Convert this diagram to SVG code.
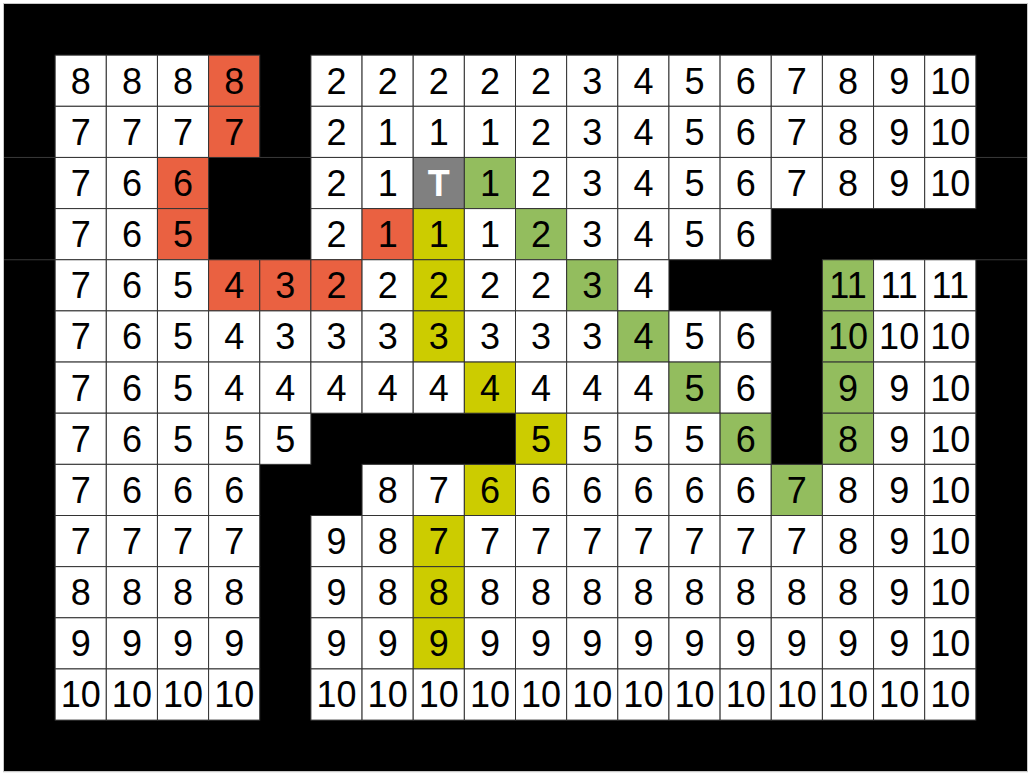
<svg xmlns="http://www.w3.org/2000/svg" width="1031" height="775" viewBox="0 0 1031 775">
<style>
.cells rect{stroke:#333;stroke-width:1}
.w{fill:#fff}.r{fill:#EA6141}.g{fill:#93BD5E}.y{fill:#CCCC00}.t{fill:#808080}
text{font-family:"Liberation Sans",Arial,Helvetica,sans-serif;font-size:36px;text-anchor:middle;fill:#000}
text.tt{fill:#fff;font-weight:bold}
</style>
<rect width="1031" height="775" fill="#fff"/>
<rect x="4" y="4" width="1023" height="767.25" fill="#000"/>
<rect x="3.5" y="3.5" width="1024" height="768.25" fill="none" stroke="#c8c8c8" stroke-width="1"/>
<g id="seams" stroke="#3a3a3a" stroke-width="1" fill="none">
<path d="M4 157.45H55.15M259.75 157.45H310.9M975.85 157.45H1027M4 259.75H55.15M975.85 259.75H1027"/>
</g>
<g class="cells">
<!-- row 0 -->
<g id="n0-0" class="w" transform="translate(55.15,55.15)"><rect width="51.15" height="51.15"/><text x="25.6" y="38.5">8</text></g>
<g id="n0-1" class="w" transform="translate(106.3,55.15)"><rect width="51.15" height="51.15"/><text x="25.6" y="38.5">8</text></g>
<g id="n0-2" class="w" transform="translate(157.45,55.15)"><rect width="51.15" height="51.15"/><text x="25.6" y="38.5">8</text></g>
<g id="n0-3" class="r" transform="translate(208.6,55.15)"><rect width="51.15" height="51.15"/><text x="25.6" y="38.5">8</text></g>
<g id="n0-5" class="w" transform="translate(310.9,55.15)"><rect width="51.15" height="51.15"/><text x="25.6" y="38.5">2</text></g>
<g id="n0-6" class="w" transform="translate(362.05,55.15)"><rect width="51.15" height="51.15"/><text x="25.6" y="38.5">2</text></g>
<g id="n0-7" class="w" transform="translate(413.2,55.15)"><rect width="51.15" height="51.15"/><text x="25.6" y="38.5">2</text></g>
<g id="n0-8" class="w" transform="translate(464.35,55.15)"><rect width="51.15" height="51.15"/><text x="25.6" y="38.5">2</text></g>
<g id="n0-9" class="w" transform="translate(515.5,55.15)"><rect width="51.15" height="51.15"/><text x="25.6" y="38.5">2</text></g>
<g id="n0-10" class="w" transform="translate(566.65,55.15)"><rect width="51.15" height="51.15"/><text x="25.6" y="38.5">3</text></g>
<g id="n0-11" class="w" transform="translate(617.8,55.15)"><rect width="51.15" height="51.15"/><text x="25.6" y="38.5">4</text></g>
<g id="n0-12" class="w" transform="translate(668.95,55.15)"><rect width="51.15" height="51.15"/><text x="25.6" y="38.5">5</text></g>
<g id="n0-13" class="w" transform="translate(720.1,55.15)"><rect width="51.15" height="51.15"/><text x="25.6" y="38.5">6</text></g>
<g id="n0-14" class="w" transform="translate(771.25,55.15)"><rect width="51.15" height="51.15"/><text x="25.6" y="38.5">7</text></g>
<g id="n0-15" class="w" transform="translate(822.4,55.15)"><rect width="51.15" height="51.15"/><text x="25.6" y="38.5">8</text></g>
<g id="n0-16" class="w" transform="translate(873.55,55.15)"><rect width="51.15" height="51.15"/><text x="25.6" y="38.5">9</text></g>
<g id="n0-17" class="w" transform="translate(924.7,55.15)"><rect width="51.15" height="51.15"/><text x="25.6" y="38.5">10</text></g>
<!-- row 1 -->
<g id="n1-0" class="w" transform="translate(55.15,106.3)"><rect width="51.15" height="51.15"/><text x="25.6" y="38.5">7</text></g>
<g id="n1-1" class="w" transform="translate(106.3,106.3)"><rect width="51.15" height="51.15"/><text x="25.6" y="38.5">7</text></g>
<g id="n1-2" class="w" transform="translate(157.45,106.3)"><rect width="51.15" height="51.15"/><text x="25.6" y="38.5">7</text></g>
<g id="n1-3" class="r" transform="translate(208.6,106.3)"><rect width="51.15" height="51.15"/><text x="25.6" y="38.5">7</text></g>
<g id="n1-5" class="w" transform="translate(310.9,106.3)"><rect width="51.15" height="51.15"/><text x="25.6" y="38.5">2</text></g>
<g id="n1-6" class="w" transform="translate(362.05,106.3)"><rect width="51.15" height="51.15"/><text x="25.6" y="38.5">1</text></g>
<g id="n1-7" class="w" transform="translate(413.2,106.3)"><rect width="51.15" height="51.15"/><text x="25.6" y="38.5">1</text></g>
<g id="n1-8" class="w" transform="translate(464.35,106.3)"><rect width="51.15" height="51.15"/><text x="25.6" y="38.5">1</text></g>
<g id="n1-9" class="w" transform="translate(515.5,106.3)"><rect width="51.15" height="51.15"/><text x="25.6" y="38.5">2</text></g>
<g id="n1-10" class="w" transform="translate(566.65,106.3)"><rect width="51.15" height="51.15"/><text x="25.6" y="38.5">3</text></g>
<g id="n1-11" class="w" transform="translate(617.8,106.3)"><rect width="51.15" height="51.15"/><text x="25.6" y="38.5">4</text></g>
<g id="n1-12" class="w" transform="translate(668.95,106.3)"><rect width="51.15" height="51.15"/><text x="25.6" y="38.5">5</text></g>
<g id="n1-13" class="w" transform="translate(720.1,106.3)"><rect width="51.15" height="51.15"/><text x="25.6" y="38.5">6</text></g>
<g id="n1-14" class="w" transform="translate(771.25,106.3)"><rect width="51.15" height="51.15"/><text x="25.6" y="38.5">7</text></g>
<g id="n1-15" class="w" transform="translate(822.4,106.3)"><rect width="51.15" height="51.15"/><text x="25.6" y="38.5">8</text></g>
<g id="n1-16" class="w" transform="translate(873.55,106.3)"><rect width="51.15" height="51.15"/><text x="25.6" y="38.5">9</text></g>
<g id="n1-17" class="w" transform="translate(924.7,106.3)"><rect width="51.15" height="51.15"/><text x="25.6" y="38.5">10</text></g>
<!-- row 2 -->
<g id="n2-0" class="w" transform="translate(55.15,157.45)"><rect width="51.15" height="51.15"/><text x="25.6" y="38.5">7</text></g>
<g id="n2-1" class="w" transform="translate(106.3,157.45)"><rect width="51.15" height="51.15"/><text x="25.6" y="38.5">6</text></g>
<g id="n2-2" class="r" transform="translate(157.45,157.45)"><rect width="51.15" height="51.15"/><text x="25.6" y="38.5">6</text></g>
<g id="n2-5" class="w" transform="translate(310.9,157.45)"><rect width="51.15" height="51.15"/><text x="25.6" y="38.5">2</text></g>
<g id="n2-6" class="w" transform="translate(362.05,157.45)"><rect width="51.15" height="51.15"/><text x="25.6" y="38.5">1</text></g>
<g id="n2-7" class="t" transform="translate(413.2,157.45)"><rect width="51.15" height="51.15"/><text class="tt" x="25.6" y="38.5">T</text></g>
<g id="n2-8" class="g" transform="translate(464.35,157.45)"><rect width="51.15" height="51.15"/><text x="25.6" y="38.5">1</text></g>
<g id="n2-9" class="w" transform="translate(515.5,157.45)"><rect width="51.15" height="51.15"/><text x="25.6" y="38.5">2</text></g>
<g id="n2-10" class="w" transform="translate(566.65,157.45)"><rect width="51.15" height="51.15"/><text x="25.6" y="38.5">3</text></g>
<g id="n2-11" class="w" transform="translate(617.8,157.45)"><rect width="51.15" height="51.15"/><text x="25.6" y="38.5">4</text></g>
<g id="n2-12" class="w" transform="translate(668.95,157.45)"><rect width="51.15" height="51.15"/><text x="25.6" y="38.5">5</text></g>
<g id="n2-13" class="w" transform="translate(720.1,157.45)"><rect width="51.15" height="51.15"/><text x="25.6" y="38.5">6</text></g>
<g id="n2-14" class="w" transform="translate(771.25,157.45)"><rect width="51.15" height="51.15"/><text x="25.6" y="38.5">7</text></g>
<g id="n2-15" class="w" transform="translate(822.4,157.45)"><rect width="51.15" height="51.15"/><text x="25.6" y="38.5">8</text></g>
<g id="n2-16" class="w" transform="translate(873.55,157.45)"><rect width="51.15" height="51.15"/><text x="25.6" y="38.5">9</text></g>
<g id="n2-17" class="w" transform="translate(924.7,157.45)"><rect width="51.15" height="51.15"/><text x="25.6" y="38.5">10</text></g>
<!-- row 3 -->
<g id="n3-0" class="w" transform="translate(55.15,208.6)"><rect width="51.15" height="51.15"/><text x="25.6" y="38.5">7</text></g>
<g id="n3-1" class="w" transform="translate(106.3,208.6)"><rect width="51.15" height="51.15"/><text x="25.6" y="38.5">6</text></g>
<g id="n3-2" class="r" transform="translate(157.45,208.6)"><rect width="51.15" height="51.15"/><text x="25.6" y="38.5">5</text></g>
<g id="n3-5" class="w" transform="translate(310.9,208.6)"><rect width="51.15" height="51.15"/><text x="25.6" y="38.5">2</text></g>
<g id="n3-6" class="r" transform="translate(362.05,208.6)"><rect width="51.15" height="51.15"/><text x="25.6" y="38.5">1</text></g>
<g id="n3-7" class="y" transform="translate(413.2,208.6)"><rect width="51.15" height="51.15"/><text x="25.6" y="38.5">1</text></g>
<g id="n3-8" class="w" transform="translate(464.35,208.6)"><rect width="51.15" height="51.15"/><text x="25.6" y="38.5">1</text></g>
<g id="n3-9" class="g" transform="translate(515.5,208.6)"><rect width="51.15" height="51.15"/><text x="25.6" y="38.5">2</text></g>
<g id="n3-10" class="w" transform="translate(566.65,208.6)"><rect width="51.15" height="51.15"/><text x="25.6" y="38.5">3</text></g>
<g id="n3-11" class="w" transform="translate(617.8,208.6)"><rect width="51.15" height="51.15"/><text x="25.6" y="38.5">4</text></g>
<g id="n3-12" class="w" transform="translate(668.95,208.6)"><rect width="51.15" height="51.15"/><text x="25.6" y="38.5">5</text></g>
<g id="n3-13" class="w" transform="translate(720.1,208.6)"><rect width="51.15" height="51.15"/><text x="25.6" y="38.5">6</text></g>
<!-- row 4 -->
<g id="n4-0" class="w" transform="translate(55.15,259.75)"><rect width="51.15" height="51.15"/><text x="25.6" y="38.5">7</text></g>
<g id="n4-1" class="w" transform="translate(106.3,259.75)"><rect width="51.15" height="51.15"/><text x="25.6" y="38.5">6</text></g>
<g id="n4-2" class="w" transform="translate(157.45,259.75)"><rect width="51.15" height="51.15"/><text x="25.6" y="38.5">5</text></g>
<g id="n4-3" class="r" transform="translate(208.6,259.75)"><rect width="51.15" height="51.15"/><text x="25.6" y="38.5">4</text></g>
<g id="n4-4" class="r" transform="translate(259.75,259.75)"><rect width="51.15" height="51.15"/><text x="25.6" y="38.5">3</text></g>
<g id="n4-5" class="r" transform="translate(310.9,259.75)"><rect width="51.15" height="51.15"/><text x="25.6" y="38.5">2</text></g>
<g id="n4-6" class="w" transform="translate(362.05,259.75)"><rect width="51.15" height="51.15"/><text x="25.6" y="38.5">2</text></g>
<g id="n4-7" class="y" transform="translate(413.2,259.75)"><rect width="51.15" height="51.15"/><text x="25.6" y="38.5">2</text></g>
<g id="n4-8" class="w" transform="translate(464.35,259.75)"><rect width="51.15" height="51.15"/><text x="25.6" y="38.5">2</text></g>
<g id="n4-9" class="w" transform="translate(515.5,259.75)"><rect width="51.15" height="51.15"/><text x="25.6" y="38.5">2</text></g>
<g id="n4-10" class="g" transform="translate(566.65,259.75)"><rect width="51.15" height="51.15"/><text x="25.6" y="38.5">3</text></g>
<g id="n4-11" class="w" transform="translate(617.8,259.75)"><rect width="51.15" height="51.15"/><text x="25.6" y="38.5">4</text></g>
<g id="n4-15" class="g" transform="translate(822.4,259.75)"><rect width="51.15" height="51.15"/><text x="25.6" y="38.5">11</text></g>
<g id="n4-16" class="w" transform="translate(873.55,259.75)"><rect width="51.15" height="51.15"/><text x="25.6" y="38.5">11</text></g>
<g id="n4-17" class="w" transform="translate(924.7,259.75)"><rect width="51.15" height="51.15"/><text x="25.6" y="38.5">11</text></g>
<!-- row 5 -->
<g id="n5-0" class="w" transform="translate(55.15,310.9)"><rect width="51.15" height="51.15"/><text x="25.6" y="38.5">7</text></g>
<g id="n5-1" class="w" transform="translate(106.3,310.9)"><rect width="51.15" height="51.15"/><text x="25.6" y="38.5">6</text></g>
<g id="n5-2" class="w" transform="translate(157.45,310.9)"><rect width="51.15" height="51.15"/><text x="25.6" y="38.5">5</text></g>
<g id="n5-3" class="w" transform="translate(208.6,310.9)"><rect width="51.15" height="51.15"/><text x="25.6" y="38.5">4</text></g>
<g id="n5-4" class="w" transform="translate(259.75,310.9)"><rect width="51.15" height="51.15"/><text x="25.6" y="38.5">3</text></g>
<g id="n5-5" class="w" transform="translate(310.9,310.9)"><rect width="51.15" height="51.15"/><text x="25.6" y="38.5">3</text></g>
<g id="n5-6" class="w" transform="translate(362.05,310.9)"><rect width="51.15" height="51.15"/><text x="25.6" y="38.5">3</text></g>
<g id="n5-7" class="y" transform="translate(413.2,310.9)"><rect width="51.15" height="51.15"/><text x="25.6" y="38.5">3</text></g>
<g id="n5-8" class="w" transform="translate(464.35,310.9)"><rect width="51.15" height="51.15"/><text x="25.6" y="38.5">3</text></g>
<g id="n5-9" class="w" transform="translate(515.5,310.9)"><rect width="51.15" height="51.15"/><text x="25.6" y="38.5">3</text></g>
<g id="n5-10" class="w" transform="translate(566.65,310.9)"><rect width="51.15" height="51.15"/><text x="25.6" y="38.5">3</text></g>
<g id="n5-11" class="g" transform="translate(617.8,310.9)"><rect width="51.15" height="51.15"/><text x="25.6" y="38.5">4</text></g>
<g id="n5-12" class="w" transform="translate(668.95,310.9)"><rect width="51.15" height="51.15"/><text x="25.6" y="38.5">5</text></g>
<g id="n5-13" class="w" transform="translate(720.1,310.9)"><rect width="51.15" height="51.15"/><text x="25.6" y="38.5">6</text></g>
<g id="n5-15" class="g" transform="translate(822.4,310.9)"><rect width="51.15" height="51.15"/><text x="25.6" y="38.5">10</text></g>
<g id="n5-16" class="w" transform="translate(873.55,310.9)"><rect width="51.15" height="51.15"/><text x="25.6" y="38.5">10</text></g>
<g id="n5-17" class="w" transform="translate(924.7,310.9)"><rect width="51.15" height="51.15"/><text x="25.6" y="38.5">10</text></g>
<!-- row 6 -->
<g id="n6-0" class="w" transform="translate(55.15,362.05)"><rect width="51.15" height="51.15"/><text x="25.6" y="38.5">7</text></g>
<g id="n6-1" class="w" transform="translate(106.3,362.05)"><rect width="51.15" height="51.15"/><text x="25.6" y="38.5">6</text></g>
<g id="n6-2" class="w" transform="translate(157.45,362.05)"><rect width="51.15" height="51.15"/><text x="25.6" y="38.5">5</text></g>
<g id="n6-3" class="w" transform="translate(208.6,362.05)"><rect width="51.15" height="51.15"/><text x="25.6" y="38.5">4</text></g>
<g id="n6-4" class="w" transform="translate(259.75,362.05)"><rect width="51.15" height="51.15"/><text x="25.6" y="38.5">4</text></g>
<g id="n6-5" class="w" transform="translate(310.9,362.05)"><rect width="51.15" height="51.15"/><text x="25.6" y="38.5">4</text></g>
<g id="n6-6" class="w" transform="translate(362.05,362.05)"><rect width="51.15" height="51.15"/><text x="25.6" y="38.5">4</text></g>
<g id="n6-7" class="w" transform="translate(413.2,362.05)"><rect width="51.15" height="51.15"/><text x="25.6" y="38.5">4</text></g>
<g id="n6-8" class="y" transform="translate(464.35,362.05)"><rect width="51.15" height="51.15"/><text x="25.6" y="38.5">4</text></g>
<g id="n6-9" class="w" transform="translate(515.5,362.05)"><rect width="51.15" height="51.15"/><text x="25.6" y="38.5">4</text></g>
<g id="n6-10" class="w" transform="translate(566.65,362.05)"><rect width="51.15" height="51.15"/><text x="25.6" y="38.5">4</text></g>
<g id="n6-11" class="w" transform="translate(617.8,362.05)"><rect width="51.15" height="51.15"/><text x="25.6" y="38.5">4</text></g>
<g id="n6-12" class="g" transform="translate(668.95,362.05)"><rect width="51.15" height="51.15"/><text x="25.6" y="38.5">5</text></g>
<g id="n6-13" class="w" transform="translate(720.1,362.05)"><rect width="51.15" height="51.15"/><text x="25.6" y="38.5">6</text></g>
<g id="n6-15" class="g" transform="translate(822.4,362.05)"><rect width="51.15" height="51.15"/><text x="25.6" y="38.5">9</text></g>
<g id="n6-16" class="w" transform="translate(873.55,362.05)"><rect width="51.15" height="51.15"/><text x="25.6" y="38.5">9</text></g>
<g id="n6-17" class="w" transform="translate(924.7,362.05)"><rect width="51.15" height="51.15"/><text x="25.6" y="38.5">10</text></g>
<!-- row 7 -->
<g id="n7-0" class="w" transform="translate(55.15,413.2)"><rect width="51.15" height="51.15"/><text x="25.6" y="38.5">7</text></g>
<g id="n7-1" class="w" transform="translate(106.3,413.2)"><rect width="51.15" height="51.15"/><text x="25.6" y="38.5">6</text></g>
<g id="n7-2" class="w" transform="translate(157.45,413.2)"><rect width="51.15" height="51.15"/><text x="25.6" y="38.5">5</text></g>
<g id="n7-3" class="w" transform="translate(208.6,413.2)"><rect width="51.15" height="51.15"/><text x="25.6" y="38.5">5</text></g>
<g id="n7-4" class="w" transform="translate(259.75,413.2)"><rect width="51.15" height="51.15"/><text x="25.6" y="38.5">5</text></g>
<g id="n7-9" class="y" transform="translate(515.5,413.2)"><rect width="51.15" height="51.15"/><text x="25.6" y="38.5">5</text></g>
<g id="n7-10" class="w" transform="translate(566.65,413.2)"><rect width="51.15" height="51.15"/><text x="25.6" y="38.5">5</text></g>
<g id="n7-11" class="w" transform="translate(617.8,413.2)"><rect width="51.15" height="51.15"/><text x="25.6" y="38.5">5</text></g>
<g id="n7-12" class="w" transform="translate(668.95,413.2)"><rect width="51.15" height="51.15"/><text x="25.6" y="38.5">5</text></g>
<g id="n7-13" class="g" transform="translate(720.1,413.2)"><rect width="51.15" height="51.15"/><text x="25.6" y="38.5">6</text></g>
<g id="n7-15" class="g" transform="translate(822.4,413.2)"><rect width="51.15" height="51.15"/><text x="25.6" y="38.5">8</text></g>
<g id="n7-16" class="w" transform="translate(873.55,413.2)"><rect width="51.15" height="51.15"/><text x="25.6" y="38.5">9</text></g>
<g id="n7-17" class="w" transform="translate(924.7,413.2)"><rect width="51.15" height="51.15"/><text x="25.6" y="38.5">10</text></g>
<!-- row 8 -->
<g id="n8-0" class="w" transform="translate(55.15,464.35)"><rect width="51.15" height="51.15"/><text x="25.6" y="38.5">7</text></g>
<g id="n8-1" class="w" transform="translate(106.3,464.35)"><rect width="51.15" height="51.15"/><text x="25.6" y="38.5">6</text></g>
<g id="n8-2" class="w" transform="translate(157.45,464.35)"><rect width="51.15" height="51.15"/><text x="25.6" y="38.5">6</text></g>
<g id="n8-3" class="w" transform="translate(208.6,464.35)"><rect width="51.15" height="51.15"/><text x="25.6" y="38.5">6</text></g>
<g id="n8-6" class="w" transform="translate(362.05,464.35)"><rect width="51.15" height="51.15"/><text x="25.6" y="38.5">8</text></g>
<g id="n8-7" class="w" transform="translate(413.2,464.35)"><rect width="51.15" height="51.15"/><text x="25.6" y="38.5">7</text></g>
<g id="n8-8" class="y" transform="translate(464.35,464.35)"><rect width="51.15" height="51.15"/><text x="25.6" y="38.5">6</text></g>
<g id="n8-9" class="w" transform="translate(515.5,464.35)"><rect width="51.15" height="51.15"/><text x="25.6" y="38.5">6</text></g>
<g id="n8-10" class="w" transform="translate(566.65,464.35)"><rect width="51.15" height="51.15"/><text x="25.6" y="38.5">6</text></g>
<g id="n8-11" class="w" transform="translate(617.8,464.35)"><rect width="51.15" height="51.15"/><text x="25.6" y="38.5">6</text></g>
<g id="n8-12" class="w" transform="translate(668.95,464.35)"><rect width="51.15" height="51.15"/><text x="25.6" y="38.5">6</text></g>
<g id="n8-13" class="w" transform="translate(720.1,464.35)"><rect width="51.15" height="51.15"/><text x="25.6" y="38.5">6</text></g>
<g id="n8-14" class="g" transform="translate(771.25,464.35)"><rect width="51.15" height="51.15"/><text x="25.6" y="38.5">7</text></g>
<g id="n8-15" class="w" transform="translate(822.4,464.35)"><rect width="51.15" height="51.15"/><text x="25.6" y="38.5">8</text></g>
<g id="n8-16" class="w" transform="translate(873.55,464.35)"><rect width="51.15" height="51.15"/><text x="25.6" y="38.5">9</text></g>
<g id="n8-17" class="w" transform="translate(924.7,464.35)"><rect width="51.15" height="51.15"/><text x="25.6" y="38.5">10</text></g>
<!-- row 9 -->
<g id="n9-0" class="w" transform="translate(55.15,515.5)"><rect width="51.15" height="51.15"/><text x="25.6" y="38.5">7</text></g>
<g id="n9-1" class="w" transform="translate(106.3,515.5)"><rect width="51.15" height="51.15"/><text x="25.6" y="38.5">7</text></g>
<g id="n9-2" class="w" transform="translate(157.45,515.5)"><rect width="51.15" height="51.15"/><text x="25.6" y="38.5">7</text></g>
<g id="n9-3" class="w" transform="translate(208.6,515.5)"><rect width="51.15" height="51.15"/><text x="25.6" y="38.5">7</text></g>
<g id="n9-5" class="w" transform="translate(310.9,515.5)"><rect width="51.15" height="51.15"/><text x="25.6" y="38.5">9</text></g>
<g id="n9-6" class="w" transform="translate(362.05,515.5)"><rect width="51.15" height="51.15"/><text x="25.6" y="38.5">8</text></g>
<g id="n9-7" class="y" transform="translate(413.2,515.5)"><rect width="51.15" height="51.15"/><text x="25.6" y="38.5">7</text></g>
<g id="n9-8" class="w" transform="translate(464.35,515.5)"><rect width="51.15" height="51.15"/><text x="25.6" y="38.5">7</text></g>
<g id="n9-9" class="w" transform="translate(515.5,515.5)"><rect width="51.15" height="51.15"/><text x="25.6" y="38.5">7</text></g>
<g id="n9-10" class="w" transform="translate(566.65,515.5)"><rect width="51.15" height="51.15"/><text x="25.6" y="38.5">7</text></g>
<g id="n9-11" class="w" transform="translate(617.8,515.5)"><rect width="51.15" height="51.15"/><text x="25.6" y="38.5">7</text></g>
<g id="n9-12" class="w" transform="translate(668.95,515.5)"><rect width="51.15" height="51.15"/><text x="25.6" y="38.5">7</text></g>
<g id="n9-13" class="w" transform="translate(720.1,515.5)"><rect width="51.15" height="51.15"/><text x="25.6" y="38.5">7</text></g>
<g id="n9-14" class="w" transform="translate(771.25,515.5)"><rect width="51.15" height="51.15"/><text x="25.6" y="38.5">7</text></g>
<g id="n9-15" class="w" transform="translate(822.4,515.5)"><rect width="51.15" height="51.15"/><text x="25.6" y="38.5">8</text></g>
<g id="n9-16" class="w" transform="translate(873.55,515.5)"><rect width="51.15" height="51.15"/><text x="25.6" y="38.5">9</text></g>
<g id="n9-17" class="w" transform="translate(924.7,515.5)"><rect width="51.15" height="51.15"/><text x="25.6" y="38.5">10</text></g>
<!-- row 10 -->
<g id="n10-0" class="w" transform="translate(55.15,566.65)"><rect width="51.15" height="51.15"/><text x="25.6" y="38.5">8</text></g>
<g id="n10-1" class="w" transform="translate(106.3,566.65)"><rect width="51.15" height="51.15"/><text x="25.6" y="38.5">8</text></g>
<g id="n10-2" class="w" transform="translate(157.45,566.65)"><rect width="51.15" height="51.15"/><text x="25.6" y="38.5">8</text></g>
<g id="n10-3" class="w" transform="translate(208.6,566.65)"><rect width="51.15" height="51.15"/><text x="25.6" y="38.5">8</text></g>
<g id="n10-5" class="w" transform="translate(310.9,566.65)"><rect width="51.15" height="51.15"/><text x="25.6" y="38.5">9</text></g>
<g id="n10-6" class="w" transform="translate(362.05,566.65)"><rect width="51.15" height="51.15"/><text x="25.6" y="38.5">8</text></g>
<g id="n10-7" class="y" transform="translate(413.2,566.65)"><rect width="51.15" height="51.15"/><text x="25.6" y="38.5">8</text></g>
<g id="n10-8" class="w" transform="translate(464.35,566.65)"><rect width="51.15" height="51.15"/><text x="25.6" y="38.5">8</text></g>
<g id="n10-9" class="w" transform="translate(515.5,566.65)"><rect width="51.15" height="51.15"/><text x="25.6" y="38.5">8</text></g>
<g id="n10-10" class="w" transform="translate(566.65,566.65)"><rect width="51.15" height="51.15"/><text x="25.6" y="38.5">8</text></g>
<g id="n10-11" class="w" transform="translate(617.8,566.65)"><rect width="51.15" height="51.15"/><text x="25.6" y="38.5">8</text></g>
<g id="n10-12" class="w" transform="translate(668.95,566.65)"><rect width="51.15" height="51.15"/><text x="25.6" y="38.5">8</text></g>
<g id="n10-13" class="w" transform="translate(720.1,566.65)"><rect width="51.15" height="51.15"/><text x="25.6" y="38.5">8</text></g>
<g id="n10-14" class="w" transform="translate(771.25,566.65)"><rect width="51.15" height="51.15"/><text x="25.6" y="38.5">8</text></g>
<g id="n10-15" class="w" transform="translate(822.4,566.65)"><rect width="51.15" height="51.15"/><text x="25.6" y="38.5">8</text></g>
<g id="n10-16" class="w" transform="translate(873.55,566.65)"><rect width="51.15" height="51.15"/><text x="25.6" y="38.5">9</text></g>
<g id="n10-17" class="w" transform="translate(924.7,566.65)"><rect width="51.15" height="51.15"/><text x="25.6" y="38.5">10</text></g>
<!-- row 11 -->
<g id="n11-0" class="w" transform="translate(55.15,617.8)"><rect width="51.15" height="51.15"/><text x="25.6" y="38.5">9</text></g>
<g id="n11-1" class="w" transform="translate(106.3,617.8)"><rect width="51.15" height="51.15"/><text x="25.6" y="38.5">9</text></g>
<g id="n11-2" class="w" transform="translate(157.45,617.8)"><rect width="51.15" height="51.15"/><text x="25.6" y="38.5">9</text></g>
<g id="n11-3" class="w" transform="translate(208.6,617.8)"><rect width="51.15" height="51.15"/><text x="25.6" y="38.5">9</text></g>
<g id="n11-5" class="w" transform="translate(310.9,617.8)"><rect width="51.15" height="51.15"/><text x="25.6" y="38.5">9</text></g>
<g id="n11-6" class="w" transform="translate(362.05,617.8)"><rect width="51.15" height="51.15"/><text x="25.6" y="38.5">9</text></g>
<g id="n11-7" class="y" transform="translate(413.2,617.8)"><rect width="51.15" height="51.15"/><text x="25.6" y="38.5">9</text></g>
<g id="n11-8" class="w" transform="translate(464.35,617.8)"><rect width="51.15" height="51.15"/><text x="25.6" y="38.5">9</text></g>
<g id="n11-9" class="w" transform="translate(515.5,617.8)"><rect width="51.15" height="51.15"/><text x="25.6" y="38.5">9</text></g>
<g id="n11-10" class="w" transform="translate(566.65,617.8)"><rect width="51.15" height="51.15"/><text x="25.6" y="38.5">9</text></g>
<g id="n11-11" class="w" transform="translate(617.8,617.8)"><rect width="51.15" height="51.15"/><text x="25.6" y="38.5">9</text></g>
<g id="n11-12" class="w" transform="translate(668.95,617.8)"><rect width="51.15" height="51.15"/><text x="25.6" y="38.5">9</text></g>
<g id="n11-13" class="w" transform="translate(720.1,617.8)"><rect width="51.15" height="51.15"/><text x="25.6" y="38.5">9</text></g>
<g id="n11-14" class="w" transform="translate(771.25,617.8)"><rect width="51.15" height="51.15"/><text x="25.6" y="38.5">9</text></g>
<g id="n11-15" class="w" transform="translate(822.4,617.8)"><rect width="51.15" height="51.15"/><text x="25.6" y="38.5">9</text></g>
<g id="n11-16" class="w" transform="translate(873.55,617.8)"><rect width="51.15" height="51.15"/><text x="25.6" y="38.5">9</text></g>
<g id="n11-17" class="w" transform="translate(924.7,617.8)"><rect width="51.15" height="51.15"/><text x="25.6" y="38.5">10</text></g>
<!-- row 12 -->
<g id="n12-0" class="w" transform="translate(55.15,668.95)"><rect width="51.15" height="51.15"/><text x="25.6" y="38.5">10</text></g>
<g id="n12-1" class="w" transform="translate(106.3,668.95)"><rect width="51.15" height="51.15"/><text x="25.6" y="38.5">10</text></g>
<g id="n12-2" class="w" transform="translate(157.45,668.95)"><rect width="51.15" height="51.15"/><text x="25.6" y="38.5">10</text></g>
<g id="n12-3" class="w" transform="translate(208.6,668.95)"><rect width="51.15" height="51.15"/><text x="25.6" y="38.5">10</text></g>
<g id="n12-5" class="w" transform="translate(310.9,668.95)"><rect width="51.15" height="51.15"/><text x="25.6" y="38.5">10</text></g>
<g id="n12-6" class="w" transform="translate(362.05,668.95)"><rect width="51.15" height="51.15"/><text x="25.6" y="38.5">10</text></g>
<g id="n12-7" class="w" transform="translate(413.2,668.95)"><rect width="51.15" height="51.15"/><text x="25.6" y="38.5">10</text></g>
<g id="n12-8" class="w" transform="translate(464.35,668.95)"><rect width="51.15" height="51.15"/><text x="25.6" y="38.5">10</text></g>
<g id="n12-9" class="w" transform="translate(515.5,668.95)"><rect width="51.15" height="51.15"/><text x="25.6" y="38.5">10</text></g>
<g id="n12-10" class="w" transform="translate(566.65,668.95)"><rect width="51.15" height="51.15"/><text x="25.6" y="38.5">10</text></g>
<g id="n12-11" class="w" transform="translate(617.8,668.95)"><rect width="51.15" height="51.15"/><text x="25.6" y="38.5">10</text></g>
<g id="n12-12" class="w" transform="translate(668.95,668.95)"><rect width="51.15" height="51.15"/><text x="25.6" y="38.5">10</text></g>
<g id="n12-13" class="w" transform="translate(720.1,668.95)"><rect width="51.15" height="51.15"/><text x="25.6" y="38.5">10</text></g>
<g id="n12-14" class="w" transform="translate(771.25,668.95)"><rect width="51.15" height="51.15"/><text x="25.6" y="38.5">10</text></g>
<g id="n12-15" class="w" transform="translate(822.4,668.95)"><rect width="51.15" height="51.15"/><text x="25.6" y="38.5">10</text></g>
<g id="n12-16" class="w" transform="translate(873.55,668.95)"><rect width="51.15" height="51.15"/><text x="25.6" y="38.5">10</text></g>
<g id="n12-17" class="w" transform="translate(924.7,668.95)"><rect width="51.15" height="51.15"/><text x="25.6" y="38.5">10</text></g>
</g>
</svg>
